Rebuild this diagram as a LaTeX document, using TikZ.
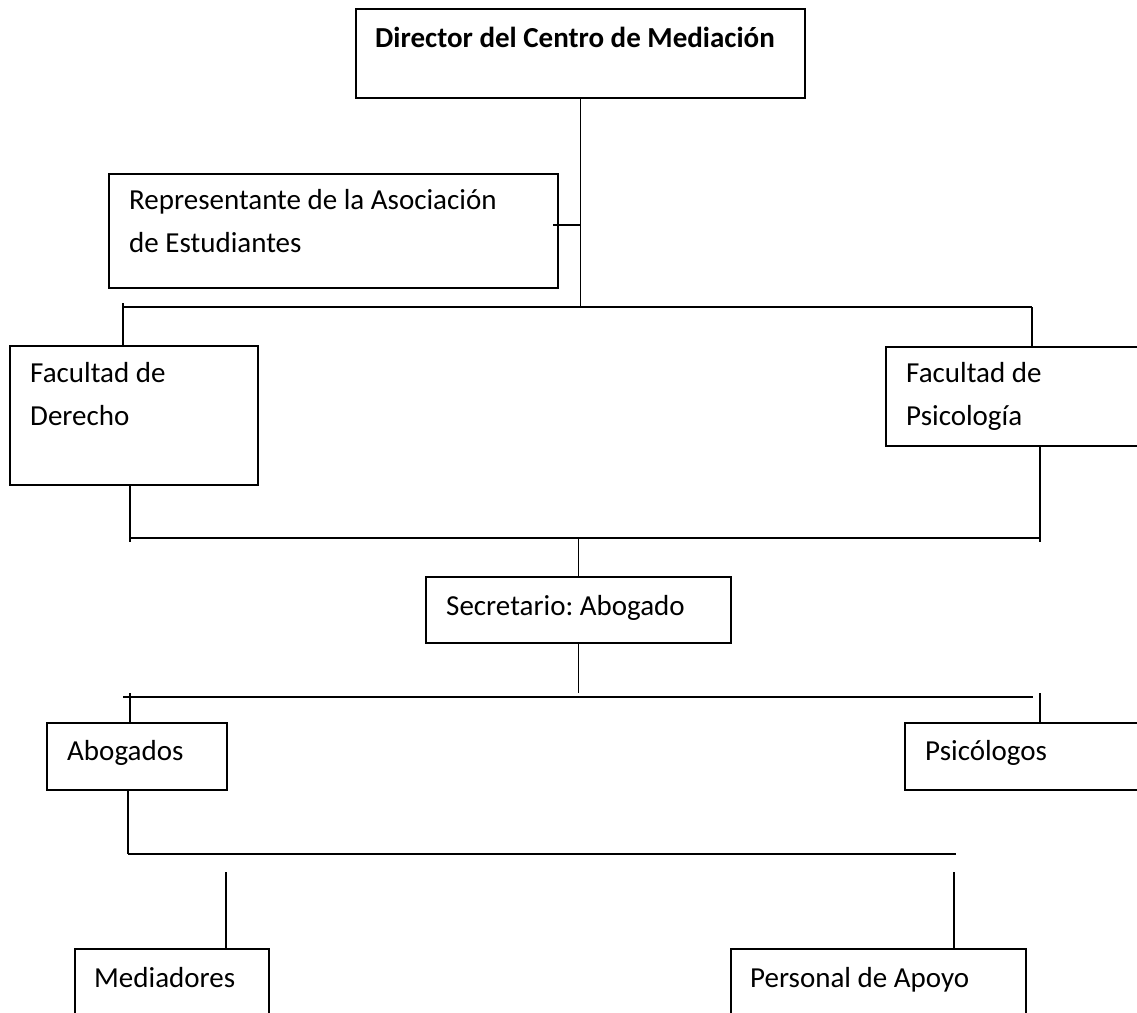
\documentclass[tikz,border=0pt]{standalone}
\usepackage{fontspec}
\setmainfont{Carlito}
\usepackage{tikz}
\usetikzlibrary{positioning, calc}
\frenchspacing

\begin{document}
\begin{tikzpicture}[
    x=1pt, y=-1pt,
    every node/.style={inner sep=0pt},
    box/.style={draw, line width=2pt, anchor=north west},
    lbl/.style={anchor=base west, font=\fontsize{29}{43}\selectfont, align=left},
    bus/.style={line width=2pt},
    thin line/.style={line width=1.2pt},
]
\useasboundingbox (0,0) rectangle (1137,1012);
\clip (0,0) rectangle (1137,1012);

\node (dir) at (355,8) [box, minimum width=449pt, minimum height=89pt] {};
\node (rep) at (108,173) [box, minimum width=449pt, minimum height=114pt] {};
\node (fder) at (9,345) [box, minimum width=248pt, minimum height=139pt] {};
\node (fpsi) at (885,346) [box, minimum width=280pt, minimum height=99pt] {};
\node (sec) at (425,576) [box, minimum width=305pt, minimum height=66pt] {};
\node (abog) at (46,722) [box, minimum width=180pt, minimum height=67pt] {};
\node (psic) at (904,722) [box, minimum width=260pt, minimum height=67pt] {};
\node (med) at (74,948) [box, minimum width=194pt, minimum height=90pt] {};
\node (pers) at (730,948) [box, minimum width=295pt, minimum height=90pt] {};

\node (tdir) at (375,47) [lbl, font=\fontsize{29}{43}\selectfont\bfseries] {Director del Centro de Mediación};
\node (trep) at (129,252) [lbl] {Representante de la Asociación\\de Estudiantes};
\node (tfder) at (30,425) [lbl] {Facultad de\\Derecho};
\node (tfpsi) at (906,425) [lbl] {Facultad de\\Psicología};
\node (tsec) at (446,615) [lbl] {Secretario: Abogado};
\node (tabog) at (67,760) [lbl] {Abogados};
\node (tpsic) at (925,760) [lbl] {Psicólogos};
\node (tmed) at (94,987) [lbl] {Mediadores};
\node (tpers) at (750,987) [lbl] {Personal de Apoyo};

% first level
\coordinate (b1l) at (123,307);
\coordinate (b1r) at (1032,307);
\coordinate (tick) at (553,225);
\draw[thin line] (dir.south) -- (dir.south |- b1l);
\draw[thin line] (tick) -- (tick -| dir.south);
\draw[bus] (b1l) -- (b1r);
\draw[thin line] ($(b1l)+(0,-4)$) -- (b1l |- fder.north);
\draw[thin line] (b1r) -- (b1r |- fpsi.north);

% faculties to secretary
\coordinate (b2l) at (130,538);
\coordinate (b2r) at (1040,538);
\draw[thin line] (b2l |- fder.south) -- ($(b2l)+(0,4)$);
\draw[thin line] (b2r |- fpsi.south) -- ($(b2r)+(0,4)$);
\draw[bus] (b2l) -- (b2r);
\draw[thin line] (sec.north) -- (sec.north |- b2l);

% secretary to staff
\coordinate (b3l) at (123,697);
\coordinate (b3r) at (1033,697);
\coordinate (d3l) at (130,693);
\coordinate (d3r) at (1040,693);
\draw[thin line] (sec.south) -- ++(0,49);
\draw[bus] (b3l) -- (b3r);
\draw[thin line] (d3l) -- (d3l |- abog.north);
\draw[thin line] (d3r) -- (d3r |- psic.north);

% lower level
\coordinate (b4l) at (128,854);
\coordinate (b4r) at (956,854);
\coordinate (m1) at (226,872);
\coordinate (m2) at (954,872);
\draw[thin line] (b4l |- abog.south) -- (b4l);
\draw[bus] (b4l) -- (b4r);
\draw[thin line] (m1) -- (m1 |- med.north);
\draw[thin line] (m2) -- (m2 |- pers.north);

\end{tikzpicture}
\end{document}
